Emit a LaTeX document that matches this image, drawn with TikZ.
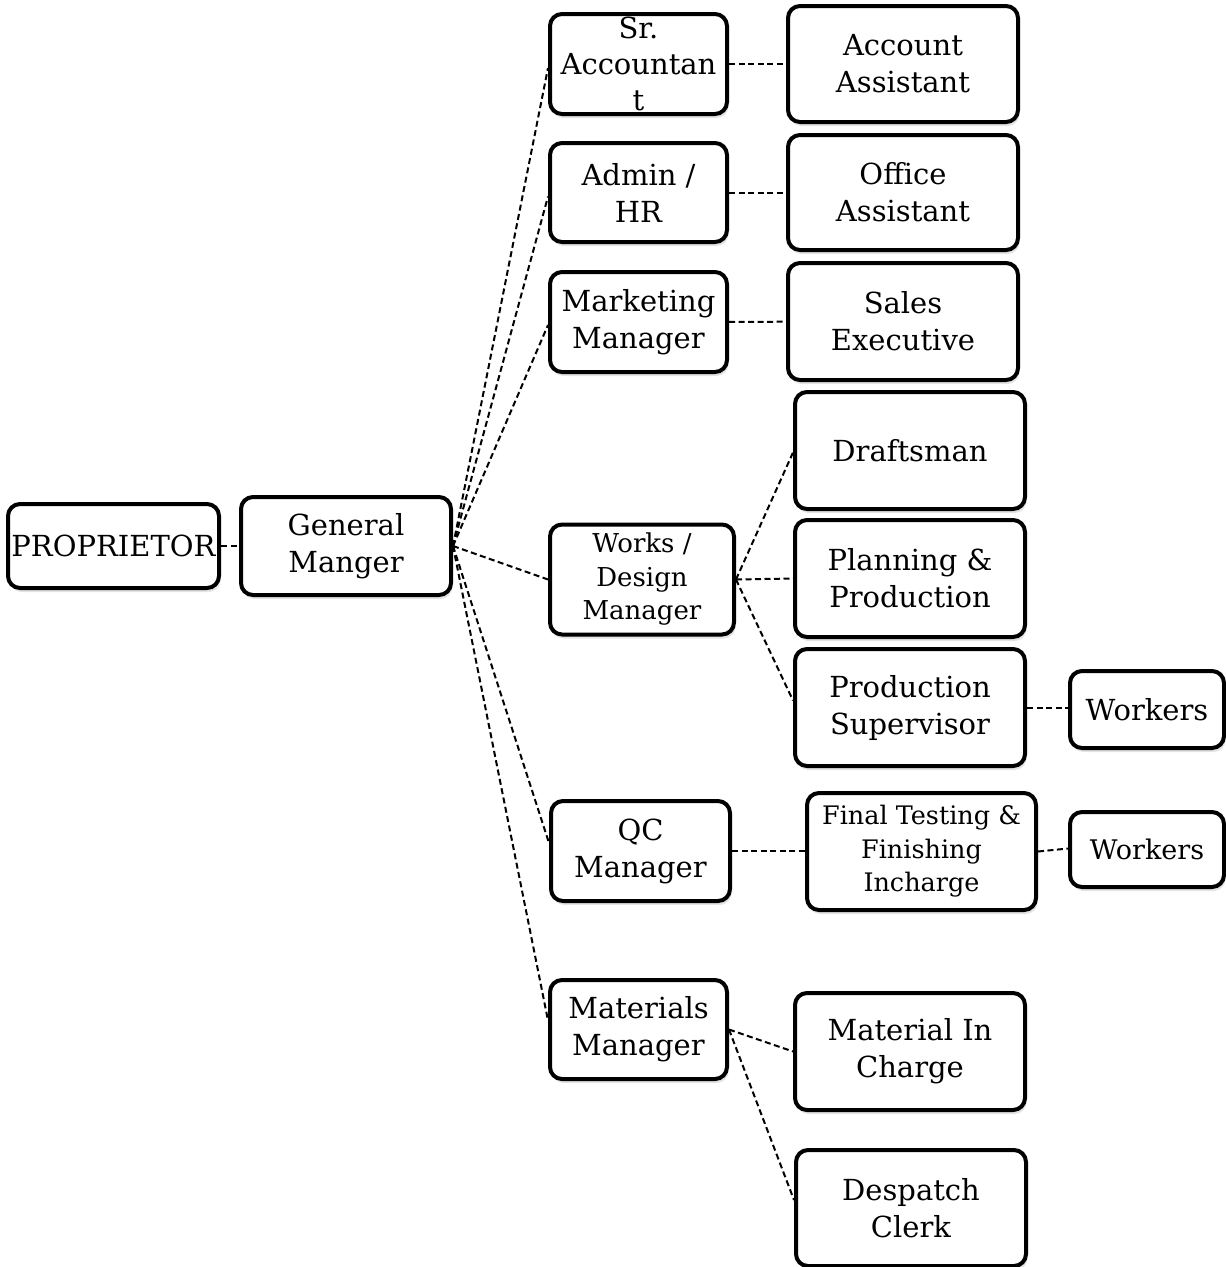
\documentclass[tikz,border=0pt]{standalone}
\usepackage{fontspec}
\setmainfont{DejaVu Serif}
\usepackage{tikz}
\usetikzlibrary{positioning,shadows}

\begin{document}
\begin{tikzpicture}[x=1pt, y=-1pt,
	box/.style={draw, line width=4pt, rounded corners=12pt, fill=white, align=center, inner sep=0pt,
		drop shadow={opacity=0.22, shadow xshift=1.5pt, shadow yshift=-4pt},
		font={\fontsize{29}{37}\selectfont}},
	smallbox/.style={box, font={\fontsize{26}{33.5}\selectfont}},
	link/.style={dash pattern=on 6pt off 3.5pt, line width=2pt}]
			%\draw[help lines] (0,0) grid[step=100] (1226,1267);
			\useasboundingbox (0,0) rectangle (1226,1267);
			\node[box, minimum width=211, minimum height=84] (prop) at (113.5,546) {PROPRIETOR};
			\node[box, minimum width=210, minimum height=98] (gm) at (346,546) {General\\Manger};

			\node[box, minimum width=177, minimum height=100] (sracc) at (638.5,64) {};
			\node[align=center, inner sep=0pt, font={\fontsize{29}{36}\selectfont}] (sracctext) at (sracc.center) {Sr.\\Accountan\\t};
			\node[box, minimum width=177, minimum height=99] (admin) at (638.5,192.5) {Admin /\\HR};
			\node[box, minimum width=177, minimum height=100] (mkt) at (638.5,322) {Marketing\\Manager};
			\node[smallbox, minimum width=184, minimum height=110] (works) at (642,579.5) {Works /\\Design\\Manager};
			\node[box, minimum width=179, minimum height=100] (qc) at (640.5,851) {QC\\Manager};
			\node[box, minimum width=177, minimum height=99] (mat) at (638.5,1029.5) {Materials\\Manager};

			\node[box, minimum width=230, minimum height=116] (accast) at (903,64) {Account\\Assistant};
			\node[box, minimum width=230, minimum height=115] (offast) at (903,192.5) {Office\\Assistant};
			\node[box, minimum width=230, minimum height=117] (sales) at (903,321.5) {Sales\\Executive};
			\node[box, minimum width=230, minimum height=117] (draft) at (910,450.5) {Draftsman};
			\node[box, minimum width=230, minimum height=117] (plan) at (910,578.5) {Planning \&\\Production};
			\node[box, minimum width=230, minimum height=117] (prodsup) at (910,707.5) {Production\\Supervisor};
			\node[smallbox, minimum width=229, minimum height=117, font={\fontsize{25.5}{33.5}\selectfont}] (final) at (921.5,851.5) {Final Testing \&\\Finishing\\Incharge};
			\node[box, minimum width=230, minimum height=117] (mic) at (910,1051.5) {Material In\\Charge};
			\node[box, minimum width=230, minimum height=116] (desp) at (911,1208) {Despatch\\Clerk};

			\node[box, minimum width=154, minimum height=77] (wrkone) at (1147,709.5) {Workers};
			\node[box, minimum width=154, minimum height=75, font={\fontsize{27}{33}\selectfont}] (wrktwo) at (1147,849.5) {Workers};

			\draw[link] (prop) -- (gm);
			\draw[link] (gm.east) -- ([yshift=-4pt]sracc.west);
			\draw[link] (gm.east) -- ([yshift=-4pt]admin.west);
			\draw[link] (gm.east) -- ([yshift=-3pt]mkt.west);
			\draw[link] (gm.east) -- (works.west);
			\draw[link] (gm.east) -- ([yshift=8pt]qc.west);
			\draw[link] (gm.east) -- ([yshift=9pt]mat.west);

			\draw[link] (sracc) -- (accast);
			\draw[link] (admin) -- (offast);
			\draw[link] (mkt) -- (sales);
			\draw[link] (works.east) -- ([yshift=-2pt]draft.west);
			\draw[link] (works.east) -- (plan.west);
			\draw[link] (works.east) -- ([yshift=7pt]prodsup.west);
			\draw[link] (prodsup.east) -- (prodsup.east -| wrkone.west);
			\draw[link] (qc) -- (qc.east -| final.west);
			\draw[link] (final.east) -- ([yshift=1pt]wrktwo.west);
			\draw[link] (mat.east) -- (mic.west);
			\draw[link] (mat.east) -- ([yshift=8pt]desp.west);
		\end{tikzpicture}
\end{document}
